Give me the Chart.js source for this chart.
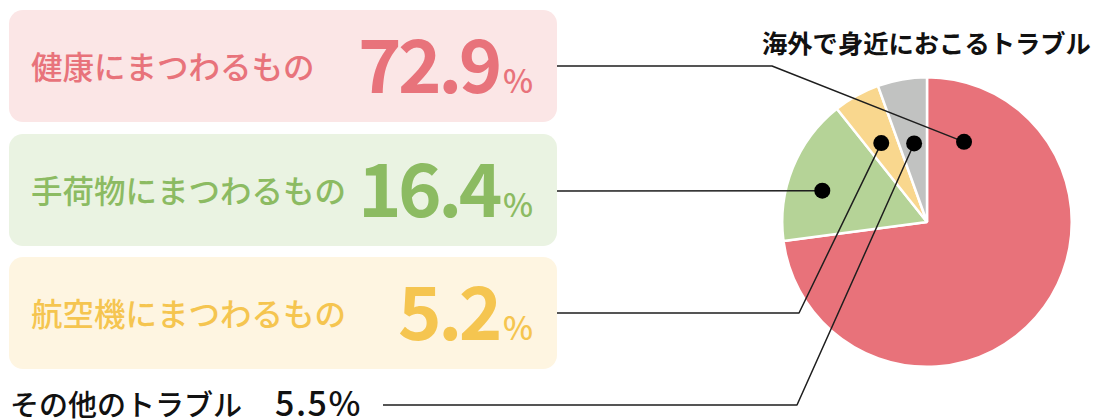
<!DOCTYPE html>
<html><head><meta charset="utf-8">
<script src="https://cdn.jsdelivr.net/npm/chart.js@4.4.1/dist/chart.umd.min.js"></script>
<style>
html,body{margin:0;padding:0;background:#fff;}
#wrap{position:relative;width:1095px;height:420px;overflow:hidden;font-family:"Noto Sans CJK JP","Noto Sans",sans-serif;}
.box{position:absolute;left:9px;width:548px;height:112px;border-radius:14px;}
.lab{position:absolute;left:22px;top:40px;font-size:31.5px;line-height:1;font-weight:500;white-space:nowrap;}
.val{position:absolute;right:24px;top:14px;font-size:74px;line-height:1;font-weight:700;white-space:nowrap;letter-spacing:-3.5px;}
.val .pct{font-size:32px;font-weight:500;letter-spacing:0;margin-left:4px;}
#other{position:absolute;left:10px;top:389px;font-size:29px;line-height:29px;font-weight:500;color:#111;white-space:nowrap;}
#other .ov{font-size:34px;line-height:0;letter-spacing:1.5px;margin-left:4px;}
#title{position:absolute;left:762px;top:30px;font-size:25.3px;line-height:1;font-weight:700;color:#111;white-space:nowrap;}
canvas{position:absolute;left:0;top:0;}
</style></head>
<body>
<div id="wrap">
  <div id="boxes"></div>
  <div id="title"></div>
  <div id="other"></div>
  <canvas id="c" width="1095" height="420"></canvas>
</div>
<script>
// ---- data ----
const categories = ['健康にまつわるもの', '手荷物にまつわるもの', '航空機にまつわるもの', 'その他のトラブル'];
const values = [72.9, 16.4, 5.2, 5.5];
const titleText = '海外で身近におこるトラブル';

// ---- styles ----
const sliceColors = ['#E8727A', '#B5D397', '#F9D78E', '#C1C2C1'];
const textColors = ['#E8737B', '#8CBB62', '#F5C550'];
const boxColors = ['#FBE6E6', '#EAF3E2', '#FEF5E1'];
const boxTops = [10, 134, 257];

// ---- html text ----
const boxesEl = document.getElementById('boxes');
for (let i = 0; i < 3; i++) {
  const b = document.createElement('div');
  b.className = 'box';
  b.style.top = boxTops[i] + 'px';
  b.style.background = boxColors[i];
  const lab = document.createElement('div');
  lab.className = 'lab';
  lab.style.color = textColors[i];
  lab.textContent = categories[i];
  const val = document.createElement('div');
  val.className = 'val';
  val.style.color = textColors[i];
  const num = document.createElement('span');
  num.textContent = values[i].toFixed(1);
  const pct = document.createElement('span');
  pct.className = 'pct';
  pct.textContent = '%';
  val.appendChild(num); val.appendChild(pct);
  b.appendChild(lab); b.appendChild(val);
  boxesEl.appendChild(b);
}
document.getElementById('title').textContent = titleText;
const otherEl = document.getElementById('other');
otherEl.appendChild(document.createTextNode(categories[3] + '\u3000'));
const ov = document.createElement('span');
ov.className = 'ov';
ov.textContent = values[3].toFixed(1) + '%';
otherEl.appendChild(ov);

// ---- leader lines & dots ----
const leaderPlugin = {
  id: 'leaders',
  afterDatasetsDraw(chart, args, opts) {
    const ctx = chart.ctx;
    const arcs = chart.getDatasetMeta(0).data;
    const dots = [];
    ctx.save();
    opts.items.forEach((it, i) => {
      const a = arcs[i];
      const p = a.getProps(['x', 'y', 'startAngle', 'endAngle', 'outerRadius'], true);
      const ang = p.startAngle + it.along * (p.endAngle - p.startAngle);
      const r = it.depth * p.outerRadius;
      const dx = p.x + Math.cos(ang) * r, dy = p.y + Math.sin(ang) * r;
      ctx.beginPath();
      ctx.moveTo(it.path[0][0], it.path[0][1]);
      for (let k = 1; k < it.path.length; k++) ctx.lineTo(it.path[k][0], it.path[k][1]);
      ctx.lineTo(dx, dy);
      ctx.strokeStyle = opts.lineColor;
      ctx.lineWidth = opts.lineWidth;
      ctx.lineJoin = 'round';
      ctx.stroke();
      dots.push([dx, dy]);
    });
    ctx.fillStyle = opts.dotColor;
    dots.forEach(d => {
      ctx.beginPath();
      ctx.arc(d[0], d[1], opts.dotRadius, 0, Math.PI * 2);
      ctx.fill();
    });
    ctx.restore();
  }
};

new Chart(document.getElementById('c'), {
  type: 'pie',
  data: {
    labels: categories,
    datasets: [{
      data: values,
      backgroundColor: sliceColors,
      borderColor: '#ffffff',
      borderWidth: 2.5
    }]
  },
  options: {
    responsive: false,
    animation: false,
    events: [],
    layout: { padding: { left: 781, right: 22, top: 76, bottom: 52 } },
    plugins: {
      legend: { display: false },
      tooltip: { enabled: false },
      leaders: {
        lineColor: '#1e1e1e',
        lineWidth: 1.5,
        dotColor: '#000',
        dotRadius: 8,
        items: [
          { along: 0.0945, depth: 0.61, path: [[557, 66], [772, 66]] },
          { along: 0.41, depth: 0.755, path: [[557, 191]] },
          { along: 0.45, depth: 0.63, path: [[557, 313], [799, 313]] },
          { along: 0.53, depth: 0.55, path: [[383, 405], [797, 405]] }
        ]
      }
    }
  },
  plugins: [leaderPlugin]
});
</script>
</body></html>
